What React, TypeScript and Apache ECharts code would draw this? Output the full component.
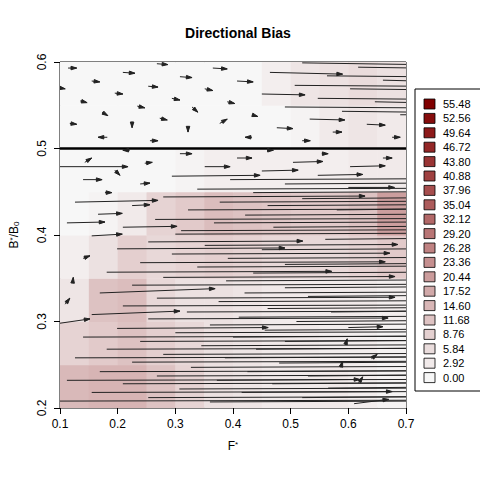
import React, { useEffect, useRef } from "react";
import * as echarts from "echarts";

const xCenters = [0.125, 0.175, 0.225, 0.275, 0.325, 0.375, 0.425, 0.475, 0.525, 0.575, 0.625, 0.675];
const yCenters = [0.225, 0.275, 0.325, 0.375, 0.425, 0.475, 0.525, 0.575];
const biasRows = [
  [14, 15, 15, 12, 8, 5, 4, 3, 3, 3, 2, 1],
  [8, 10, 12, 9, 7, 5, 4, 3, 3, 2, 2, 1],
  [4, 12, 13, 7, 5, 5, 4, 3, 3, 3, 3, 2],
  [2, 5, 9, 7, 8, 9, 8, 7, 7, 7, 8, 10],
  [0, 1, 3, 8, 10, 13, 12, 11, 10, 10, 12, 20],
  [0, 0, 0, 0, 1, 2, 2, 2, 2, 2, 3, 3],
  [0, 0, 0, 0, 0, 0, 0, 0, 1, 3, 4, 3],
  [0, 0, 0, 0, 0, 0, 0, 2, 4, 5, 6, 5],
];
const legendLevels = ["55.48", "52.56", "49.64", "46.72", "43.80", "40.88", "37.96", "35.04", "32.12", "29.20", "26.28", "23.36", "20.44", "17.52", "14.60", "11.68", "8.76", "5.84", "2.92", "0.00"];
const maxLevel = 55.48;

// arrows: [x0, y0, x1, y1]
const arrows: number[][] = [
  [0.114, 0.593, 0.129, 0.593], [0.268, 0.598, 0.287, 0.597], [0.365, 0.593, 0.39, 0.592],
  [0.209, 0.588, 0.23, 0.587], [0.155, 0.578, 0.169, 0.577], [0.308, 0.583, 0.329, 0.582],
  [0.407, 0.578, 0.435, 0.577], [0.253, 0.572, 0.27, 0.571], [0.1, 0.57, 0.109, 0.569],
  [0.351, 0.569, 0.365, 0.567], [0.195, 0.564, 0.209, 0.563], [0.135, 0.555, 0.147, 0.553],
  [0.294, 0.558, 0.308, 0.556], [0.39, 0.554, 0.403, 0.552], [0.234, 0.549, 0.247, 0.547],
  [0.329, 0.548, 0.339, 0.542], [0.173, 0.542, 0.183, 0.538], [0.273, 0.535, 0.286, 0.533],
  [0.433, 0.539, 0.443, 0.537], [0.117, 0.529, 0.129, 0.528], [0.225, 0.531, 0.225, 0.524],
  [0.322, 0.525, 0.322, 0.519], [0.377, 0.529, 0.39, 0.534], [0.182, 0.513, 0.166, 0.513],
  [0.256, 0.509, 0.27, 0.509], [0.433, 0.513, 0.421, 0.513], [0.476, 0.524, 0.504, 0.523],
  [0.52, 0.509, 0.534, 0.509], [0.573, 0.519, 0.589, 0.519], [0.632, 0.528, 0.664, 0.527],
  [0.676, 0.513, 0.69, 0.513], [0.533, 0.534, 0.594, 0.533], [0.45, 0.563, 0.525, 0.562],
  [0.464, 0.588, 0.59, 0.586], [0.52, 0.599, 0.72, 0.597], [0.617, 0.594, 0.72, 0.593],
  [0.563, 0.584, 0.72, 0.583], [0.66, 0.579, 0.72, 0.578], [0.507, 0.573, 0.72, 0.572],
  [0.603, 0.569, 0.72, 0.568], [0.547, 0.558, 0.72, 0.557], [0.646, 0.554, 0.72, 0.553],
  [0.49, 0.548, 0.72, 0.547], [0.589, 0.543, 0.72, 0.542], [0.69, 0.539, 0.72, 0.539],
  [0.221, 0.498, 0.209, 0.498], [0.308, 0.494, 0.329, 0.494], [0.459, 0.498, 0.47, 0.498],
  [0.554, 0.494, 0.565, 0.494], [0.66, 0.489, 0.676, 0.489], [0.143, 0.484, 0.155, 0.489],
  [0.247, 0.483, 0.26, 0.484], [0.407, 0.489, 0.433, 0.489], [0.504, 0.484, 0.556, 0.485],
  [0.603, 0.479, 0.664, 0.48], [0.1, 0.479, 0.218, 0.479], [0.351, 0.479, 0.395, 0.479],
  [0.195, 0.475, 0.204, 0.469], [0.45, 0.474, 0.513, 0.475], [0.547, 0.469, 0.625, 0.47],
  [0.294, 0.468, 0.447, 0.469], [0.14, 0.464, 0.173, 0.464], [0.395, 0.464, 0.72, 0.465],
  [0.49, 0.459, 0.72, 0.46], [0.239, 0.459, 0.256, 0.46], [0.338, 0.453, 0.72, 0.454],
  [0.6, 0.455, 0.68, 0.455], [0.178, 0.449, 0.19, 0.449], [0.435, 0.449, 0.72, 0.45],
  [0.279, 0.444, 0.629, 0.445], [0.52, 0.442, 0.72, 0.443], [0.126, 0.438, 0.27, 0.44],
  [0.377, 0.438, 0.72, 0.439], [0.225, 0.434, 0.256, 0.435], [0.46, 0.434, 0.72, 0.435],
  [0.322, 0.429, 0.72, 0.43], [0.166, 0.424, 0.208, 0.425], [0.58, 0.429, 0.72, 0.43],
  [0.421, 0.423, 0.72, 0.424], [0.265, 0.418, 0.72, 0.419], [0.112, 0.414, 0.178, 0.415],
  [0.367, 0.414, 0.72, 0.415], [0.209, 0.409, 0.303, 0.41], [0.47, 0.409, 0.72, 0.41],
  [0.31, 0.405, 0.72, 0.406], [0.155, 0.399, 0.208, 0.401], [0.3, 0.401, 0.72, 0.402],
  [0.253, 0.392, 0.521, 0.393], [0.56, 0.395, 0.72, 0.396], [0.351, 0.388, 0.686, 0.389],
  [0.199, 0.384, 0.49, 0.385], [0.45, 0.383, 0.72, 0.384], [0.294, 0.378, 0.672, 0.379],
  [0.14, 0.373, 0.152, 0.376], [0.391, 0.373, 0.72, 0.374], [0.239, 0.368, 0.664, 0.369],
  [0.49, 0.366, 0.72, 0.367], [0.338, 0.363, 0.72, 0.364], [0.181, 0.357, 0.571, 0.358],
  [0.435, 0.356, 0.72, 0.357], [0.279, 0.351, 0.681, 0.352], [0.122, 0.345, 0.123, 0.351],
  [0.388, 0.347, 0.72, 0.348], [0.225, 0.342, 0.72, 0.343], [0.49, 0.339, 0.72, 0.34],
  [0.169, 0.333, 0.369, 0.338], [0.42, 0.333, 0.72, 0.334], [0.268, 0.327, 0.681, 0.328],
  [0.53, 0.329, 0.72, 0.33], [0.109, 0.32, 0.117, 0.327], [0.375, 0.323, 0.72, 0.324],
  [0.209, 0.318, 0.72, 0.319], [0.46, 0.315, 0.72, 0.316], [0.155, 0.308, 0.308, 0.312],
  [0.32, 0.311, 0.72, 0.312], [0.57, 0.311, 0.72, 0.312], [0.1, 0.298, 0.152, 0.303],
  [0.253, 0.303, 0.669, 0.304], [0.41, 0.305, 0.72, 0.306], [0.51, 0.3, 0.72, 0.301],
  [0.36, 0.296, 0.72, 0.297], [0.199, 0.292, 0.461, 0.293], [0.6, 0.293, 0.66, 0.294],
  [0.455, 0.29, 0.72, 0.291], [0.14, 0.282, 0.72, 0.283], [0.3, 0.287, 0.72, 0.288],
  [0.4, 0.282, 0.72, 0.283], [0.239, 0.277, 0.72, 0.278], [0.49, 0.277, 0.72, 0.278],
  [0.345, 0.272, 0.72, 0.273], [0.595, 0.273, 0.598, 0.28], [0.181, 0.268, 0.72, 0.269],
  [0.44, 0.268, 0.72, 0.269], [0.279, 0.262, 0.72, 0.263], [0.126, 0.258, 0.72, 0.259],
  [0.64, 0.257, 0.65, 0.262], [0.386, 0.258, 0.72, 0.259], [0.225, 0.253, 0.72, 0.254],
  [0.48, 0.252, 0.72, 0.253], [0.587, 0.247, 0.59, 0.254], [0.169, 0.242, 0.72, 0.243],
  [0.327, 0.247, 0.72, 0.248], [0.425, 0.242, 0.72, 0.243], [0.268, 0.237, 0.72, 0.238],
  [0.53, 0.237, 0.72, 0.238], [0.112, 0.232, 0.72, 0.233], [0.372, 0.232, 0.62, 0.233],
  [0.618, 0.229, 0.625, 0.236], [0.209, 0.228, 0.72, 0.229], [0.468, 0.228, 0.72, 0.229],
  [0.307, 0.222, 0.72, 0.223], [0.565, 0.223, 0.72, 0.224], [0.155, 0.218, 0.676, 0.219],
  [0.415, 0.218, 0.72, 0.219], [0.253, 0.212, 0.72, 0.213], [0.52, 0.212, 0.72, 0.213],
  [0.1, 0.208, 0.72, 0.209], [0.36, 0.207, 0.72, 0.208], [0.61, 0.205, 0.67, 0.21],
];

function colorFor(v: number): string {
  const t = Math.max(0, Math.min(1, v / maxLevel));
  const a = [247, 247, 247];
  const b = [128, 0, 0];
  const c = a.map((s, i) => Math.round(s + (b[i] - s) * t));
  return `rgb(${c[0]},${c[1]},${c[2]})`;
}

const cells: number[][] = [];
yCenters.forEach((y, j) => xCenters.forEach((x, i) => cells.push([x, y, biasRows[j][i]])));

export default function App() {
  const ref = useRef<HTMLDivElement>(null);
  useEffect(() => {
    document.body.style.margin = "0";
    const chart = echarts.init(ref.current!, undefined, { renderer: "svg" });
    const legendTop = 104;
    const legendStep = 14.4;
    const graphics: any[] = [
      { type: "rect", shape: { x: 415, y: 89, width: 80, height: 302 }, style: { fill: "#fff", stroke: "#000", lineWidth: 1 } },
    ];
    legendLevels.forEach((lab, k) => {
      const v = parseFloat(lab);
      graphics.push({ type: "rect", shape: { x: 424, y: legendTop + k * legendStep - 5, width: 11, height: 10 }, style: { fill: colorFor(v), stroke: "#000", lineWidth: 0.8 } });
      graphics.push({ type: "text", x: 443, y: legendTop + k * legendStep, style: { text: lab, fontSize: 11, fontFamily: "Liberation Sans", fill: "#000", verticalAlign: "middle" } });
    });
    chart.setOption({
      animation: false,
      backgroundColor: "#fff",
      title: { text: "Directional Bias", left: 233, top: 21, textAlign: "center", textStyle: { fontSize: 14, fontWeight: "bold", fontFamily: "Liberation Sans", color: "#000" } },
      grid: { left: 60, right: 74, top: 62, bottom: 72, show: true, borderColor: "#000", borderWidth: 1 },
      xAxis: {
        type: "value", min: 0.1, max: 0.7, interval: 0.1,
        name: "{a|F}{s|*}", nameLocation: "middle", nameGap: 32,
        nameTextStyle: { rich: { a: { fontSize: 12, fontFamily: "Liberation Sans", color: "#000" }, s: { fontSize: 8, verticalAlign: "top", color: "#000" } } },
        axisLine: { show: false }, splitLine: { show: false },
        axisTick: { show: true, length: 6, lineStyle: { color: "#000" } },
        axisLabel: { fontSize: 12, fontFamily: "Liberation Sans", color: "#000", margin: 10, formatter: (v: number) => String(Math.round(v * 10) / 10) },
      },
      yAxis: {
        type: "value", min: 0.2, max: 0.6, interval: 0.1,
        name: "{a|B}{s|*}{a|/B}{b|0}", nameLocation: "middle", nameGap: 40, nameRotate: 90,
        nameTextStyle: { rich: { a: { fontSize: 12, fontFamily: "Liberation Sans", color: "#000" }, s: { fontSize: 8, verticalAlign: "top", color: "#000" }, b: { fontSize: 8, verticalAlign: "bottom", color: "#000" } } },
        axisLine: { show: false }, splitLine: { show: false },
        axisTick: { show: true, length: 6, lineStyle: { color: "#000" } },
        axisLabel: { fontSize: 12, fontFamily: "Liberation Sans", color: "#000", rotate: 90, margin: 12, formatter: (v: number) => String(Math.round(v * 10) / 10) },
      },
      graphic: graphics,
      series: [
        {
          type: "custom", clip: true, z: 1,
          data: cells,
          renderItem: (params: any, api: any) => {
            const x = api.value(0), y = api.value(1), v = api.value(2);
            const p0 = api.coord([x - 0.025, y + 0.025]);
            const p1 = api.coord([x + 0.025, y - 0.025]);
            return { type: "rect", shape: { x: p0[0], y: p0[1], width: p1[0] - p0[0] + 0.5, height: p1[1] - p0[1] + 0.5 }, style: { fill: colorFor(v) } };
          },
        },
        {
          type: "line", z: 3, symbol: "none", data: [[0.1, 0.5], [0.7, 0.5]],
          lineStyle: { color: "#000", width: 2.5 },
        },
        {
          type: "custom", clip: true, z: 4,
          data: arrows,
          renderItem: (params: any, api: any) => {
            const a = api.coord([api.value(0), api.value(1)]);
            const b = api.coord([api.value(2), api.value(3)]);
            const ang = Math.atan2(b[1] - a[1], b[0] - a[0]);
            const L = 6, w = 0.3;
            const h1 = [b[0] - L * Math.cos(ang - w), b[1] - L * Math.sin(ang - w)];
            const h2 = [b[0] - L * Math.cos(ang + w), b[1] - L * Math.sin(ang + w)];
            return {
              type: "group",
              children: [
                { type: "line", shape: { x1: a[0], y1: a[1], x2: b[0], y2: b[1] }, style: { stroke: "#222", lineWidth: 1 } },
                { type: "polygon", shape: { points: [h1, b, h2] }, style: { stroke: "#222", lineWidth: 1, fill: "#222" } },
              ],
            };
          },
        },
      ],
    });
    return () => chart.dispose();
  }, []);
  return <div ref={ref} style={{ width: 480, height: 480 }} />;
}
